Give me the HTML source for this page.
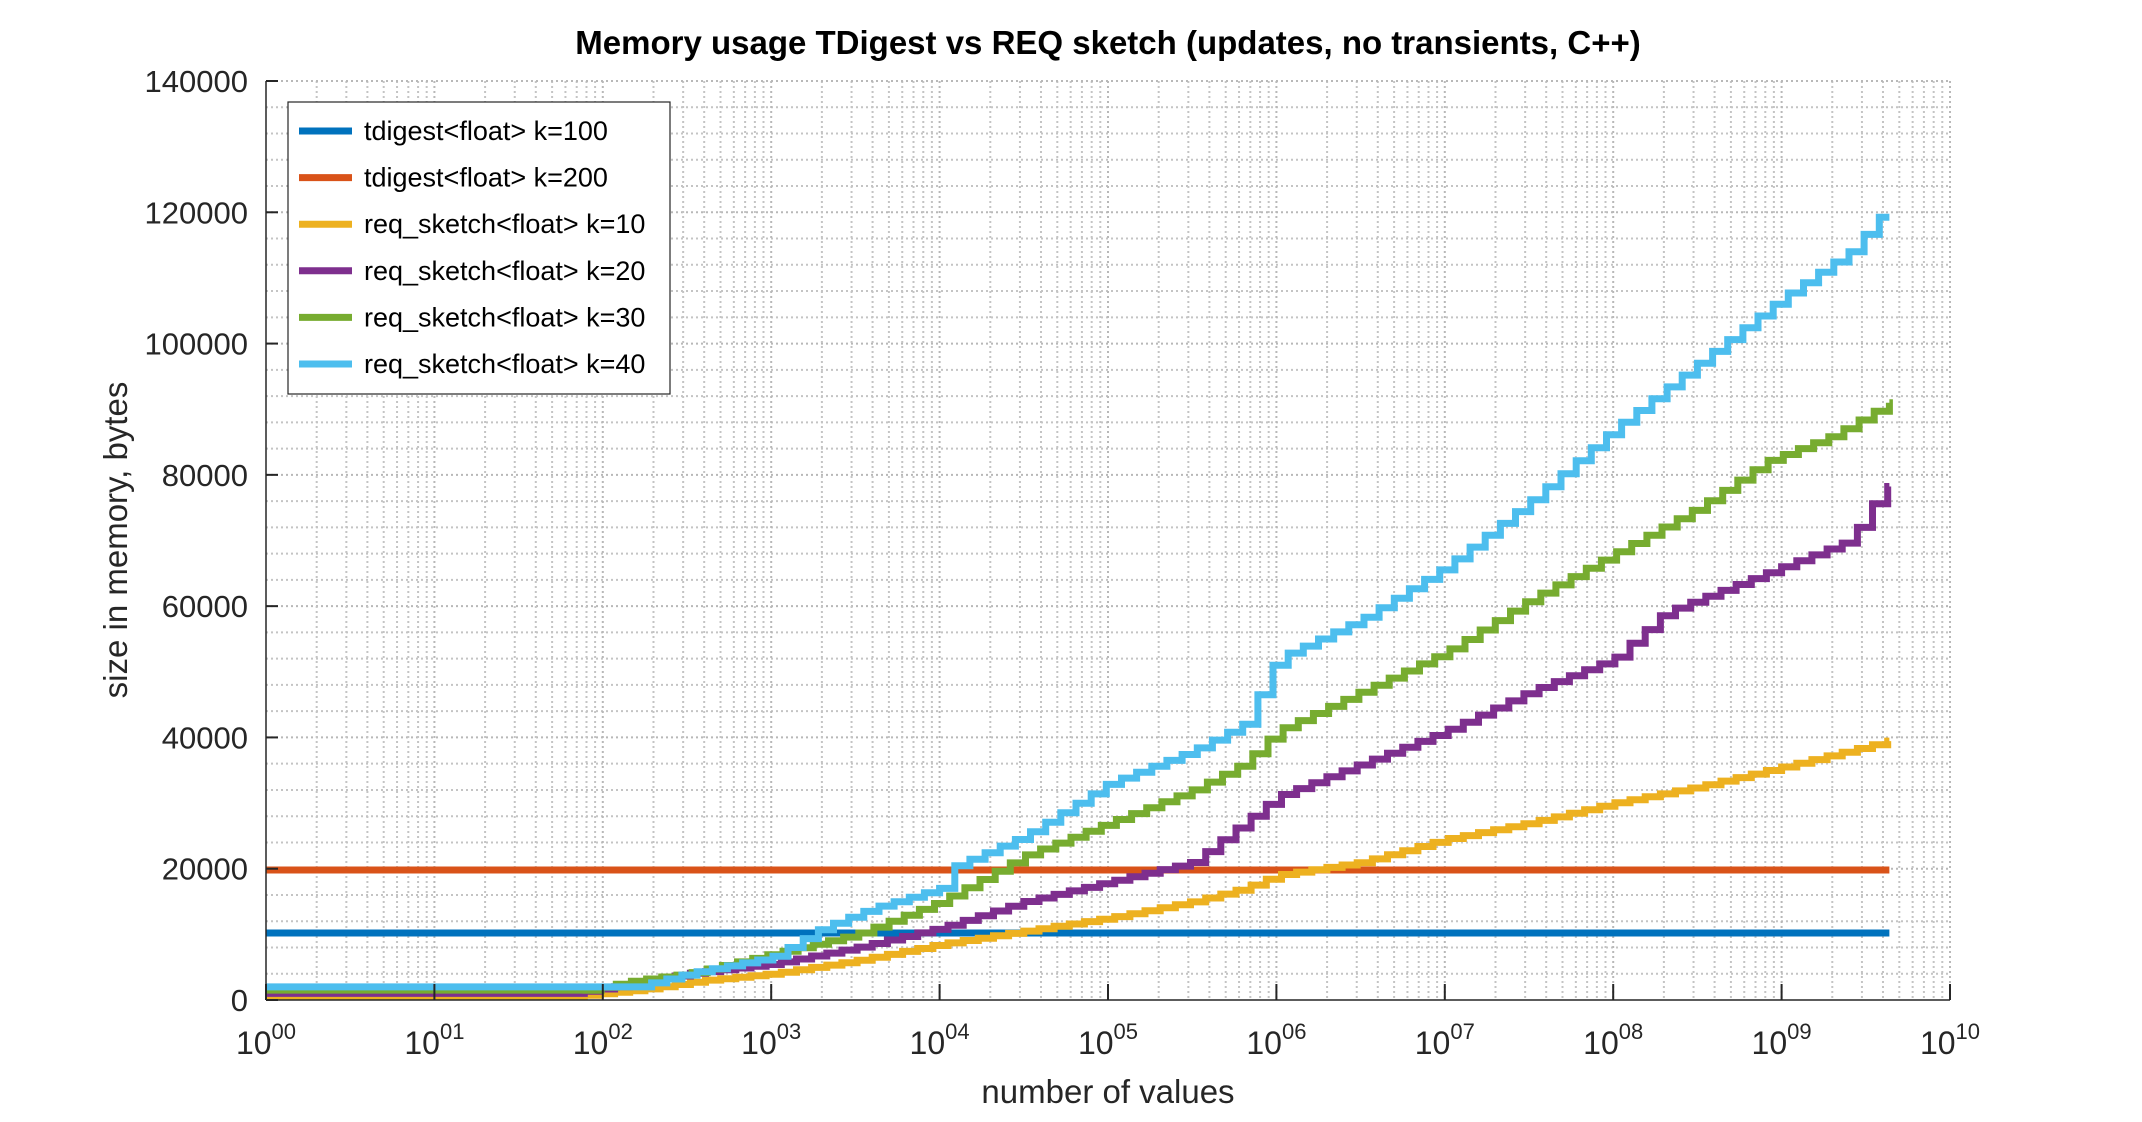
<!DOCTYPE html>
<html><head><meta charset="utf-8"><style>
html,body{margin:0;padding:0;background:#fff;}
svg{display:block;font-family:"Liberation Sans",sans-serif;}
</style></head><body>
<svg id="s" width="2142" height="1122" xmlns="http://www.w3.org/2000/svg">
<rect width="2142" height="1122" fill="#fff"/>
<g id="grid"></g>
<g id="series"></g>
<g id="axes"></g>
<text x="1108" y="54" text-anchor="middle" font-size="33" font-weight="bold" fill="#000">Memory usage TDigest vs REQ sketch (updates, no transients, C++)</text>
<text x="1108" y="1103" text-anchor="middle" font-size="33" fill="#262626">number of values</text>
<text transform="translate(127,540) rotate(-90)" text-anchor="middle" font-size="33" fill="#262626">size in memory, bytes</text>
<g id="legend"></g>
</svg>
<script>
var L=266,R=1950,T=81,B=1000,NS="http://www.w3.org/2000/svg";
function X(d){return L+d*(R-L)/10;}
function Y(v){return B-v*(B-T)/140000;}
function el(p,tag,a,txt){var e=document.createElementNS(NS,tag);for(var k in a)e.setAttribute(k,a[k]);if(txt!=null)e.textContent=txt;p.appendChild(e);return e;}
var g=document.getElementById('grid'),ax=document.getElementById('axes');
for(var v=4000;v<140000;v+=4000){if(v%20000==0)continue;el(g,'line',{x1:L,x2:R,y1:Y(v),y2:Y(v),stroke:'#c4c4c4','stroke-width':2,'stroke-dasharray':'2,3'});}
for(var v=20000;v<=140000;v+=20000){el(g,'line',{x1:L,x2:R,y1:Y(v),y2:Y(v),stroke:'#b8b8b8','stroke-width':2,'stroke-dasharray':'2,3'});}
for(var d=0;d<10;d++){for(var m=2;m<=9;m++){var x=X(d+Math.log10(m));el(g,'line',{x1:x,x2:x,y1:T,y2:B,stroke:'#c4c4c4','stroke-width':2,'stroke-dasharray':'2,3'});}
 if(d>0){el(g,'line',{x1:X(d),x2:X(d),y1:T,y2:B,stroke:'#b8b8b8','stroke-width':2,'stroke-dasharray':'2,3'});}}
el(g,'line',{x1:R,x2:R,y1:T,y2:B,stroke:'#b8b8b8','stroke-width':2,'stroke-dasharray':'2,3'});
el(g,'line',{x1:L,x2:R,y1:T,y2:T,stroke:'#b8b8b8','stroke-width':2,'stroke-dasharray':'2,3'});
var S=document.getElementById('series');
function interp(pts,d){if(d<=pts[0][0])return pts[0][1];for(var i=1;i<pts.length;i++){if(d<=pts[i][0]){var a=pts[i-1],b=pts[i];return a[1]+(b[1]-a[1])*(d-a[0])/(b[0]-a[0]);}}return pts[pts.length-1][1];}
function stairs(pts,start,col,step){var p='M'+X(0)+','+Y(pts[0][1]);var end=9.64;
 for(var d=start;d<=end+1e-9;d+=step){var v=interp(pts,d);p+=' H'+X(d).toFixed(1)+' V'+Y(v).toFixed(1);}
 p+=' H'+X(end);el(S,'path',{d:p,fill:'none',stroke:col,'stroke-width':7});}
el(S,'line',{x1:X(0),x2:X(9.64),y1:Y(10200),y2:Y(10200),stroke:'#0072bd','stroke-width':7});
el(S,'line',{x1:X(0),x2:X(9.64),y1:Y(19800),y2:Y(19800),stroke:'#d95319','stroke-width':7});
stairs([[0,500],[1.8,500],[2.2,1500],[2.6,3000],[3,4000],[3.5,6000],[4,8500],[4.5,10500],[5,12500],[5.5,15000],[5.8,17000],[6,19000],[6.5,21000],[7,24500],[7.5,27000],[8,30000],[8.5,32500],[9,35500],[9.64,39500]],1.8,'#edb120',0.09);
stairs([[0,1000],[1.8,1000],[2.2,2500],[2.5,4000],[3,5500],[3.5,8000],[4,11000],[4.5,15000],[5,18000],[5.5,21000],[5.8,27000],[6,31000],[6.5,36000],[7,41000],[7.5,47000],[8,52000],[8.3,59000],[8.7,63000],[9,66000],[9.4,70000],[9.55,76000],[9.64,78500]],1.8,'#7e2f8e',0.09);
stairs([[0,1500],[1.9,1500],[2.2,3000],[2.5,4000],[3,7000],[3.5,10000],[4,15000],[4.5,22000],[5,27000],[5.5,32000],[5.8,36000],[6,41000],[6.5,47000],[7,53000],[7.5,61000],[8,68000],[8.5,75000],[8.9,82000],[9.3,86000],[9.64,91000]],1.9,'#77ac30',0.09);
stairs([[0,2000],[2.2,2000],[2.5,4000],[3,6500],[3.3,11000],[3.6,14000],[4,17000],[4.05,20000],[4.5,25000],[5,33000],[5.5,38000],[5.8,42000],[6,52000],[6.5,58000],[7,66000],[7.5,76000],[8,87000],[8.5,97000],[9,107000],[9.4,114000],[9.64,121000]],2.2,'#4dbeee',0.09);
el(ax,'line',{x1:L,x2:L,y1:T,y2:B,stroke:'#262626','stroke-width':1.5});
el(ax,'line',{x1:L,x2:R,y1:B,y2:B,stroke:'#262626','stroke-width':1.5});
for(var v=0;v<=140000;v+=20000){el(ax,'line',{x1:L,x2:L+12,y1:Y(v),y2:Y(v),stroke:'#262626','stroke-width':2});
 el(ax,'text',{x:248,y:Y(v)+11,'text-anchor':'end','font-size':31,fill:'#262626'},String(v));}
for(var d=0;d<=10;d++){var x=X(d);el(ax,'line',{x1:x,x2:x,y1:B,y2:B-16,stroke:'#262626','stroke-width':2});
 var t=el(ax,'text',{x:x,y:1054,'text-anchor':'middle','font-size':32,fill:'#262626'},'10');
 el(t,'tspan',{dy:-15,'font-size':22},(d<10?'0':'')+d);}
var lg=document.getElementById('legend');
el(lg,'rect',{x:288,y:102,width:382,height:292,fill:'#fff',stroke:'#262626','stroke-width':1.2});
var names=['tdigest<float> k=100','tdigest<float> k=200','req_sketch<float> k=10','req_sketch<float> k=20','req_sketch<float> k=30','req_sketch<float> k=40'];
var cols=['#0072bd','#d95319','#edb120','#7e2f8e','#77ac30','#4dbeee'];
for(var i=0;i<6;i++){var y=131+i*46.6;el(lg,'line',{x1:299,x2:352,y1:y,y2:y,stroke:cols[i],'stroke-width':7});
 el(lg,'text',{x:364,y:y+9,'font-size':27,fill:'#000'},names[i]);}
</script>
</body></html>
